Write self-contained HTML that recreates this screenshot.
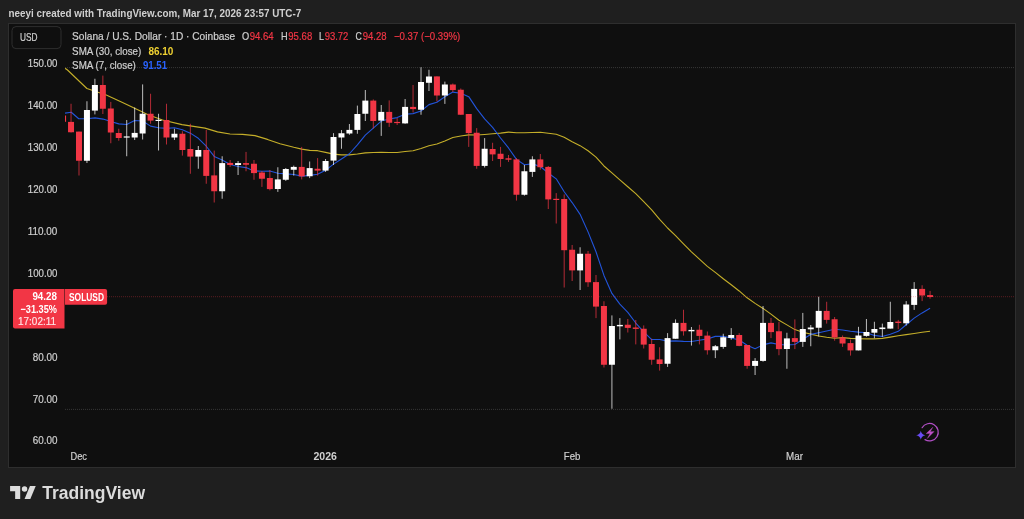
<!DOCTYPE html>
<html lang="en"><head><meta charset="utf-8"><title>SOLUSD chart</title>
<style>html,body{margin:0;padding:0;background:#1f1f1f;}body{width:1024px;height:519px;position:relative;overflow:hidden;}</style>
</head><body>
<svg width="1024" height="519" viewBox="0 0 1024 519" style="position:absolute;left:0;top:0;will-change:transform;font-family:'Liberation Sans',sans-serif">
<rect x="0" y="0" width="1024" height="519" fill="#1f1f1f"/>
<rect x="8.5" y="23.5" width="1007" height="444" fill="#0f0f0f" stroke="#2e2e2e" stroke-width="1"/>
<defs><clipPath id="pane"><rect x="65" y="24" width="950" height="420"/></clipPath></defs>
<g clip-path="url(#pane)">
<line x1="65" y1="67.6" x2="1015" y2="67.6" stroke="#7a7a7a" stroke-width="1" stroke-dasharray="1 1" opacity="0.36"/>
<line x1="65" y1="409.4" x2="1015" y2="409.4" stroke="#7a7a7a" stroke-width="1" stroke-dasharray="1 1" opacity="0.36"/>
<polyline points="65.00,68.20 67.50,70.00 86.90,88.50 98.75,92.50 106.25,95.00 122.50,102.50 142.50,111.90 147.50,114.40 162.50,120.00 182.00,124.60 205.00,128.10 217.50,131.90 230.00,134.00 242.50,134.40 255.00,135.60 267.50,139.40 280.00,143.75 293.75,147.32 301.70,149.14 309.65,150.34 317.61,150.67 325.56,152.37 333.52,154.10 341.47,154.92 349.42,154.83 357.38,154.03 365.33,152.84 373.29,152.44 381.24,152.38 389.19,152.45 397.15,152.56 405.10,151.54 413.06,150.72 421.01,148.45 428.96,145.78 436.92,143.97 444.87,140.92 452.83,137.55 460.78,135.94 468.73,134.87 476.69,134.97 484.64,134.43 492.60,133.81 500.55,133.15 508.50,132.17 516.46,132.68 524.41,132.76 532.37,132.51 540.32,132.20 548.27,133.25 556.23,134.22 564.18,137.20 572.14,141.65 580.09,145.66 588.04,150.74 596.00,157.16 603.95,165.97 611.91,172.80 619.86,179.90 627.81,186.74 635.77,193.60 643.72,201.52 651.68,209.88 659.63,219.28 667.58,228.00 675.54,235.57 683.49,243.80 691.45,251.79 699.40,259.17 707.35,266.40 715.31,272.42 723.26,278.70 731.22,284.72 739.17,290.95 747.12,297.82 755.08,303.36 763.03,308.42 770.99,314.17 778.94,320.23 786.89,324.87 794.85,329.60 802.80,332.22 810.76,334.13 818.71,336.03 826.66,337.29 834.62,338.32 842.57,337.61 850.53,338.42 858.48,338.77 866.43,338.91 874.39,338.91 882.34,338.35 890.30,337.09 898.25,335.72 906.20,334.60 914.16,333.47 922.11,332.27 930.07,331.18" fill="none" stroke="#d8c02c" stroke-width="1.1" stroke-linejoin="round" opacity="0.9"/>
<polyline points="65.00,113.10 71.25,112.25 78.75,118.75 86.90,118.75 95.00,117.90 103.10,119.10 110.80,121.58 118.76,123.89 126.71,124.49 134.67,120.51 142.62,121.04 150.57,126.13 158.53,127.71 166.48,128.42 174.44,127.81 182.39,129.76 190.34,133.14 198.30,138.32 206.25,146.22 214.21,156.43 222.16,160.09 230.11,164.55 238.07,166.42 246.02,167.59 253.98,170.89 261.93,171.29 269.88,170.99 277.84,173.31 285.79,173.89 293.75,174.43 301.70,176.09 309.65,175.38 317.61,174.21 325.56,170.20 333.52,164.14 341.47,159.04 349.42,153.75 357.38,144.84 365.33,135.19 373.29,128.11 381.24,121.09 389.19,119.06 397.15,117.61 405.10,114.32 413.06,113.62 421.01,110.96 428.96,104.61 436.92,102.26 444.87,96.80 452.83,92.09 460.78,93.21 468.73,96.64 476.69,108.62 484.64,118.94 492.60,127.36 500.55,138.00 508.50,147.94 516.46,159.37 524.41,164.82 532.37,163.89 540.32,166.54 548.27,172.96 556.23,178.82 564.18,191.75 572.14,202.56 580.09,214.34 588.04,231.89 596.00,251.80 603.95,275.42 611.91,293.42 619.86,304.09 627.81,312.31 635.77,323.04 643.72,331.95 651.68,339.54 659.63,339.44 667.58,341.16 675.54,340.88 683.49,341.36 691.45,341.50 699.40,340.26 707.35,338.90 715.31,336.36 723.26,336.24 731.22,337.97 739.17,340.06 747.12,345.21 755.08,348.78 763.03,344.87 770.99,342.85 778.94,344.54 786.89,345.03 794.85,344.46 802.80,339.19 810.76,334.41 818.71,332.70 826.66,330.96 834.62,329.30 842.57,330.03 850.53,331.24 858.48,332.17 866.43,332.81 874.39,335.40 882.34,336.49 890.30,334.27 898.25,331.34 906.20,324.79 914.16,318.13 922.11,312.91 930.07,308.34" fill="none" stroke="#2459e6" stroke-width="1.1" stroke-linejoin="round" opacity="0.95"/>
<rect x="62.58" y="115.50" width="1" height="6.30" fill="#f23645" opacity="0.72"/>
<rect x="60.08" y="115.50" width="6" height="6.30" fill="#f23645"/>
<rect x="70.53" y="103.75" width="1" height="28.75" fill="#f23645" opacity="0.72"/>
<rect x="68.03" y="121.90" width="6" height="10.35" fill="#f23645"/>
<rect x="78.49" y="131.60" width="1" height="43.90" fill="#f23645" opacity="0.72"/>
<rect x="75.99" y="131.60" width="6" height="29.15" fill="#f23645"/>
<rect x="86.44" y="101.25" width="1" height="61.75" fill="#ffffff" opacity="0.72"/>
<rect x="83.94" y="110.00" width="6" height="50.75" fill="#ffffff"/>
<rect x="94.40" y="78.75" width="1" height="35.65" fill="#ffffff" opacity="0.72"/>
<rect x="91.90" y="85.00" width="6" height="25.60" fill="#ffffff"/>
<rect x="102.35" y="75.60" width="1" height="38.40" fill="#f23645" opacity="0.72"/>
<rect x="99.85" y="85.00" width="6" height="23.75" fill="#f23645"/>
<rect x="110.30" y="101.90" width="1" height="41.35" fill="#f23645" opacity="0.72"/>
<rect x="107.80" y="108.50" width="6" height="24.00" fill="#f23645"/>
<rect x="118.26" y="128.75" width="1" height="12.00" fill="#f23645" opacity="0.72"/>
<rect x="115.76" y="133.00" width="6" height="5.00" fill="#f23645"/>
<rect x="126.21" y="120.00" width="1" height="36.25" fill="#ffffff" opacity="0.72"/>
<rect x="123.71" y="136.40" width="6" height="1.20" fill="#ffffff"/>
<rect x="134.17" y="107.50" width="1" height="32.50" fill="#ffffff" opacity="0.72"/>
<rect x="131.67" y="132.90" width="6" height="4.60" fill="#ffffff"/>
<rect x="142.12" y="84.40" width="1" height="55.10" fill="#ffffff" opacity="0.72"/>
<rect x="139.62" y="113.75" width="6" height="19.75" fill="#ffffff"/>
<rect x="150.07" y="93.75" width="1" height="30.00" fill="#f23645" opacity="0.72"/>
<rect x="147.57" y="113.75" width="6" height="6.85" fill="#f23645"/>
<rect x="158.03" y="113.75" width="1" height="36.75" fill="#ffffff" opacity="0.72"/>
<rect x="155.53" y="119.80" width="6" height="1.20" fill="#ffffff"/>
<rect x="165.98" y="103.75" width="1" height="40.75" fill="#f23645" opacity="0.72"/>
<rect x="163.48" y="120.00" width="6" height="17.50" fill="#f23645"/>
<rect x="173.94" y="128.75" width="1" height="11.25" fill="#ffffff" opacity="0.72"/>
<rect x="171.44" y="133.75" width="6" height="3.75" fill="#ffffff"/>
<rect x="181.89" y="131.25" width="1" height="24.35" fill="#f23645" opacity="0.72"/>
<rect x="179.39" y="133.75" width="6" height="16.25" fill="#f23645"/>
<rect x="189.84" y="123.75" width="1" height="50.00" fill="#f23645" opacity="0.72"/>
<rect x="187.34" y="149.00" width="6" height="7.60" fill="#f23645"/>
<rect x="197.80" y="146.00" width="1" height="22.75" fill="#ffffff" opacity="0.72"/>
<rect x="195.30" y="150.00" width="6" height="6.60" fill="#ffffff"/>
<rect x="205.75" y="130.00" width="1" height="53.75" fill="#f23645" opacity="0.72"/>
<rect x="203.25" y="150.00" width="6" height="25.90" fill="#f23645"/>
<rect x="213.71" y="150.60" width="1" height="51.90" fill="#f23645" opacity="0.72"/>
<rect x="211.21" y="175.40" width="6" height="15.85" fill="#f23645"/>
<rect x="221.66" y="156.25" width="1" height="42.50" fill="#ffffff" opacity="0.72"/>
<rect x="219.16" y="163.10" width="6" height="28.15" fill="#ffffff"/>
<rect x="229.61" y="160.00" width="1" height="6.90" fill="#f23645" opacity="0.72"/>
<rect x="227.11" y="162.90" width="6" height="2.10" fill="#f23645"/>
<rect x="237.57" y="161.00" width="1" height="14.00" fill="#ffffff" opacity="0.72"/>
<rect x="235.07" y="163.10" width="6" height="1.90" fill="#ffffff"/>
<rect x="245.52" y="151.90" width="1" height="19.35" fill="#f23645" opacity="0.72"/>
<rect x="243.02" y="163.10" width="6" height="1.65" fill="#f23645"/>
<rect x="253.48" y="160.00" width="1" height="19.75" fill="#f23645" opacity="0.72"/>
<rect x="250.98" y="163.75" width="6" height="9.35" fill="#f23645"/>
<rect x="261.43" y="171.00" width="1" height="15.90" fill="#f23645" opacity="0.72"/>
<rect x="258.93" y="172.50" width="6" height="6.25" fill="#f23645"/>
<rect x="269.38" y="170.00" width="1" height="20.40" fill="#f23645" opacity="0.72"/>
<rect x="266.88" y="178.00" width="6" height="11.10" fill="#f23645"/>
<rect x="277.34" y="167.25" width="1" height="24.65" fill="#ffffff" opacity="0.72"/>
<rect x="274.84" y="179.40" width="6" height="9.60" fill="#ffffff"/>
<rect x="285.29" y="168.00" width="1" height="12.90" fill="#ffffff" opacity="0.72"/>
<rect x="282.79" y="169.00" width="6" height="10.75" fill="#ffffff"/>
<rect x="293.25" y="165.60" width="1" height="10.00" fill="#ffffff" opacity="0.72"/>
<rect x="290.75" y="166.90" width="6" height="2.85" fill="#ffffff"/>
<rect x="301.20" y="146.90" width="1" height="32.50" fill="#f23645" opacity="0.72"/>
<rect x="298.70" y="166.90" width="6" height="9.50" fill="#f23645"/>
<rect x="309.15" y="161.50" width="1" height="16.60" fill="#ffffff" opacity="0.72"/>
<rect x="306.65" y="168.10" width="6" height="8.15" fill="#ffffff"/>
<rect x="317.11" y="158.10" width="1" height="17.50" fill="#f23645" opacity="0.72"/>
<rect x="314.61" y="168.75" width="6" height="1.85" fill="#f23645"/>
<rect x="325.06" y="159.00" width="1" height="12.90" fill="#ffffff" opacity="0.72"/>
<rect x="322.56" y="161.00" width="6" height="9.60" fill="#ffffff"/>
<rect x="333.02" y="133.10" width="1" height="31.90" fill="#ffffff" opacity="0.72"/>
<rect x="330.52" y="137.00" width="6" height="23.60" fill="#ffffff"/>
<rect x="340.97" y="130.00" width="1" height="18.75" fill="#ffffff" opacity="0.72"/>
<rect x="338.47" y="133.25" width="6" height="4.25" fill="#ffffff"/>
<rect x="348.92" y="124.00" width="1" height="10.75" fill="#ffffff" opacity="0.72"/>
<rect x="346.42" y="129.90" width="6" height="3.60" fill="#ffffff"/>
<rect x="356.88" y="105.60" width="1" height="28.15" fill="#ffffff" opacity="0.72"/>
<rect x="354.38" y="114.00" width="6" height="15.90" fill="#ffffff"/>
<rect x="364.83" y="90.00" width="1" height="31.00" fill="#ffffff" opacity="0.72"/>
<rect x="362.33" y="100.60" width="6" height="13.15" fill="#ffffff"/>
<rect x="372.79" y="99.40" width="1" height="29.10" fill="#f23645" opacity="0.72"/>
<rect x="370.29" y="100.60" width="6" height="20.40" fill="#f23645"/>
<rect x="380.74" y="105.00" width="1" height="30.90" fill="#ffffff" opacity="0.72"/>
<rect x="378.24" y="111.90" width="6" height="8.70" fill="#ffffff"/>
<rect x="388.69" y="100.40" width="1" height="26.50" fill="#f23645" opacity="0.72"/>
<rect x="386.19" y="111.90" width="6" height="10.85" fill="#f23645"/>
<rect x="396.65" y="118.10" width="1" height="6.90" fill="#f23645" opacity="0.72"/>
<rect x="394.15" y="121.90" width="6" height="1.20" fill="#f23645"/>
<rect x="404.60" y="99.00" width="1" height="24.75" fill="#ffffff" opacity="0.72"/>
<rect x="402.10" y="106.90" width="6" height="16.50" fill="#ffffff"/>
<rect x="412.56" y="85.00" width="1" height="27.50" fill="#f23645" opacity="0.72"/>
<rect x="410.06" y="106.90" width="6" height="2.20" fill="#f23645"/>
<rect x="420.51" y="67.25" width="1" height="47.50" fill="#ffffff" opacity="0.72"/>
<rect x="418.01" y="82.00" width="6" height="27.75" fill="#ffffff"/>
<rect x="428.46" y="69.75" width="1" height="21.25" fill="#ffffff" opacity="0.72"/>
<rect x="425.96" y="76.50" width="6" height="6.30" fill="#ffffff"/>
<rect x="436.42" y="76.40" width="1" height="25.00" fill="#f23645" opacity="0.72"/>
<rect x="433.92" y="76.40" width="6" height="19.10" fill="#f23645"/>
<rect x="444.37" y="81.60" width="1" height="22.30" fill="#ffffff" opacity="0.72"/>
<rect x="441.87" y="84.50" width="6" height="11.00" fill="#ffffff"/>
<rect x="452.33" y="83.50" width="1" height="8.50" fill="#f23645" opacity="0.72"/>
<rect x="449.83" y="84.50" width="6" height="5.60" fill="#f23645"/>
<rect x="460.28" y="88.50" width="1" height="26.25" fill="#f23645" opacity="0.72"/>
<rect x="457.78" y="89.75" width="6" height="25.00" fill="#f23645"/>
<rect x="468.23" y="114.00" width="1" height="32.90" fill="#f23645" opacity="0.72"/>
<rect x="465.73" y="114.00" width="6" height="19.10" fill="#f23645"/>
<rect x="476.19" y="128.10" width="1" height="40.65" fill="#f23645" opacity="0.72"/>
<rect x="473.69" y="132.75" width="6" height="33.15" fill="#f23645"/>
<rect x="484.14" y="138.10" width="1" height="29.40" fill="#ffffff" opacity="0.72"/>
<rect x="481.64" y="148.75" width="6" height="17.15" fill="#ffffff"/>
<rect x="492.10" y="142.75" width="1" height="18.25" fill="#f23645" opacity="0.72"/>
<rect x="489.60" y="149.00" width="6" height="5.40" fill="#f23645"/>
<rect x="500.05" y="146.90" width="1" height="20.00" fill="#f23645" opacity="0.72"/>
<rect x="497.55" y="153.75" width="6" height="5.25" fill="#f23645"/>
<rect x="508.00" y="155.00" width="1" height="6.90" fill="#f23645" opacity="0.72"/>
<rect x="505.50" y="158.30" width="6" height="1.40" fill="#f23645"/>
<rect x="515.96" y="158.10" width="1" height="42.50" fill="#f23645" opacity="0.72"/>
<rect x="513.46" y="159.40" width="6" height="35.35" fill="#f23645"/>
<rect x="523.91" y="165.00" width="1" height="30.60" fill="#ffffff" opacity="0.72"/>
<rect x="521.41" y="171.25" width="6" height="23.50" fill="#ffffff"/>
<rect x="531.87" y="156.25" width="1" height="20.65" fill="#ffffff" opacity="0.72"/>
<rect x="529.37" y="159.40" width="6" height="12.50" fill="#ffffff"/>
<rect x="539.82" y="154.00" width="1" height="15.75" fill="#f23645" opacity="0.72"/>
<rect x="537.32" y="159.40" width="6" height="7.85" fill="#f23645"/>
<rect x="547.77" y="166.00" width="1" height="43.00" fill="#f23645" opacity="0.72"/>
<rect x="545.27" y="166.90" width="6" height="32.50" fill="#f23645"/>
<rect x="555.73" y="193.10" width="1" height="30.40" fill="#f23645" opacity="0.72"/>
<rect x="553.23" y="198.80" width="6" height="1.20" fill="#f23645"/>
<rect x="563.68" y="194.40" width="1" height="93.10" fill="#f23645" opacity="0.72"/>
<rect x="561.18" y="199.00" width="6" height="51.20" fill="#f23645"/>
<rect x="571.64" y="245.00" width="1" height="36.00" fill="#f23645" opacity="0.72"/>
<rect x="569.14" y="249.75" width="6" height="20.65" fill="#f23645"/>
<rect x="579.59" y="247.25" width="1" height="42.75" fill="#ffffff" opacity="0.72"/>
<rect x="577.09" y="253.75" width="6" height="16.65" fill="#ffffff"/>
<rect x="587.54" y="251.00" width="1" height="35.90" fill="#f23645" opacity="0.72"/>
<rect x="585.04" y="253.75" width="6" height="28.50" fill="#f23645"/>
<rect x="595.50" y="275.00" width="1" height="43.10" fill="#f23645" opacity="0.72"/>
<rect x="593.00" y="282.10" width="6" height="24.50" fill="#f23645"/>
<rect x="603.45" y="301.25" width="1" height="66.25" fill="#f23645" opacity="0.72"/>
<rect x="600.95" y="306.00" width="6" height="58.75" fill="#f23645"/>
<rect x="611.41" y="315.40" width="1" height="93.35" fill="#ffffff" opacity="0.72"/>
<rect x="608.91" y="326.00" width="6" height="38.75" fill="#ffffff"/>
<rect x="619.36" y="318.10" width="1" height="21.30" fill="#ffffff" opacity="0.72"/>
<rect x="616.86" y="324.90" width="6" height="1.40" fill="#ffffff"/>
<rect x="627.31" y="319.00" width="1" height="13.50" fill="#f23645" opacity="0.72"/>
<rect x="624.81" y="324.75" width="6" height="3.15" fill="#f23645"/>
<rect x="635.27" y="320.00" width="1" height="24.40" fill="#f23645" opacity="0.72"/>
<rect x="632.77" y="327.50" width="6" height="1.40" fill="#f23645"/>
<rect x="643.22" y="325.40" width="1" height="23.10" fill="#f23645" opacity="0.72"/>
<rect x="640.72" y="328.75" width="6" height="15.85" fill="#f23645"/>
<rect x="651.18" y="338.75" width="1" height="26.00" fill="#f23645" opacity="0.72"/>
<rect x="648.68" y="344.00" width="6" height="15.75" fill="#f23645"/>
<rect x="659.13" y="347.25" width="1" height="23.35" fill="#f23645" opacity="0.72"/>
<rect x="656.63" y="359.40" width="6" height="4.60" fill="#f23645"/>
<rect x="667.08" y="333.10" width="1" height="33.80" fill="#ffffff" opacity="0.72"/>
<rect x="664.58" y="338.10" width="6" height="25.65" fill="#ffffff"/>
<rect x="675.04" y="319.40" width="1" height="19.35" fill="#ffffff" opacity="0.72"/>
<rect x="672.54" y="322.90" width="6" height="15.85" fill="#ffffff"/>
<rect x="682.99" y="309.75" width="1" height="25.85" fill="#f23645" opacity="0.72"/>
<rect x="680.49" y="322.90" width="6" height="8.35" fill="#f23645"/>
<rect x="690.95" y="327.00" width="1" height="18.60" fill="#ffffff" opacity="0.72"/>
<rect x="688.45" y="329.90" width="6" height="1.40" fill="#ffffff"/>
<rect x="698.90" y="324.75" width="1" height="19.65" fill="#f23645" opacity="0.72"/>
<rect x="696.40" y="329.75" width="6" height="6.15" fill="#f23645"/>
<rect x="706.85" y="331.50" width="1" height="23.10" fill="#f23645" opacity="0.72"/>
<rect x="704.35" y="335.60" width="6" height="14.65" fill="#f23645"/>
<rect x="714.81" y="345.00" width="1" height="13.10" fill="#ffffff" opacity="0.72"/>
<rect x="712.31" y="346.25" width="6" height="4.00" fill="#ffffff"/>
<rect x="722.76" y="333.75" width="1" height="15.00" fill="#ffffff" opacity="0.72"/>
<rect x="720.26" y="337.25" width="6" height="9.65" fill="#ffffff"/>
<rect x="730.72" y="328.10" width="1" height="11.65" fill="#ffffff" opacity="0.72"/>
<rect x="728.22" y="335.00" width="6" height="2.90" fill="#ffffff"/>
<rect x="738.67" y="333.10" width="1" height="13.15" fill="#f23645" opacity="0.72"/>
<rect x="736.17" y="335.00" width="6" height="10.90" fill="#f23645"/>
<rect x="746.62" y="345.00" width="1" height="23.75" fill="#f23645" opacity="0.72"/>
<rect x="744.12" y="345.00" width="6" height="20.90" fill="#f23645"/>
<rect x="754.58" y="358.10" width="1" height="16.90" fill="#ffffff" opacity="0.72"/>
<rect x="752.08" y="360.90" width="6" height="5.00" fill="#ffffff"/>
<rect x="762.53" y="306.00" width="1" height="55.70" fill="#ffffff" opacity="0.72"/>
<rect x="760.03" y="322.90" width="6" height="38.00" fill="#ffffff"/>
<rect x="770.49" y="317.90" width="1" height="20.20" fill="#f23645" opacity="0.72"/>
<rect x="767.99" y="322.90" width="6" height="9.20" fill="#f23645"/>
<rect x="778.44" y="321.90" width="1" height="33.35" fill="#f23645" opacity="0.72"/>
<rect x="775.94" y="331.25" width="6" height="17.85" fill="#f23645"/>
<rect x="786.39" y="332.75" width="1" height="36.00" fill="#ffffff" opacity="0.72"/>
<rect x="783.89" y="338.40" width="6" height="10.60" fill="#ffffff"/>
<rect x="794.35" y="319.40" width="1" height="29.70" fill="#f23645" opacity="0.72"/>
<rect x="791.85" y="338.10" width="6" height="3.80" fill="#f23645"/>
<rect x="802.30" y="312.90" width="1" height="34.00" fill="#ffffff" opacity="0.72"/>
<rect x="799.80" y="329.00" width="6" height="12.90" fill="#ffffff"/>
<rect x="810.26" y="325.00" width="1" height="21.25" fill="#ffffff" opacity="0.72"/>
<rect x="807.76" y="327.50" width="6" height="1.80" fill="#ffffff"/>
<rect x="818.21" y="296.75" width="1" height="39.75" fill="#ffffff" opacity="0.72"/>
<rect x="815.71" y="310.90" width="6" height="16.85" fill="#ffffff"/>
<rect x="826.16" y="301.75" width="1" height="21.85" fill="#f23645" opacity="0.72"/>
<rect x="823.66" y="310.90" width="6" height="9.00" fill="#f23645"/>
<rect x="834.12" y="317.00" width="1" height="23.70" fill="#f23645" opacity="0.72"/>
<rect x="831.62" y="319.25" width="6" height="18.25" fill="#f23645"/>
<rect x="842.07" y="335.50" width="1" height="11.40" fill="#f23645" opacity="0.72"/>
<rect x="839.57" y="337.50" width="6" height="6.00" fill="#f23645"/>
<rect x="850.03" y="339.50" width="1" height="16.10" fill="#f23645" opacity="0.72"/>
<rect x="847.53" y="343.10" width="6" height="7.30" fill="#f23645"/>
<rect x="857.98" y="326.80" width="1" height="23.60" fill="#ffffff" opacity="0.72"/>
<rect x="855.48" y="335.50" width="6" height="14.90" fill="#ffffff"/>
<rect x="865.93" y="319.00" width="1" height="17.75" fill="#ffffff" opacity="0.72"/>
<rect x="863.43" y="332.00" width="6" height="3.90" fill="#ffffff"/>
<rect x="873.89" y="321.75" width="1" height="16.55" fill="#ffffff" opacity="0.72"/>
<rect x="871.39" y="329.00" width="6" height="3.70" fill="#ffffff"/>
<rect x="881.84" y="323.60" width="1" height="13.20" fill="#ffffff" opacity="0.72"/>
<rect x="879.34" y="327.50" width="6" height="1.60" fill="#ffffff"/>
<rect x="889.80" y="301.75" width="1" height="26.85" fill="#ffffff" opacity="0.72"/>
<rect x="887.30" y="322.00" width="6" height="6.60" fill="#ffffff"/>
<rect x="897.75" y="319.90" width="1" height="9.35" fill="#f23645" opacity="0.72"/>
<rect x="895.25" y="321.60" width="6" height="1.40" fill="#f23645"/>
<rect x="905.70" y="301.10" width="1" height="24.40" fill="#ffffff" opacity="0.72"/>
<rect x="903.20" y="304.50" width="6" height="18.75" fill="#ffffff"/>
<rect x="913.66" y="282.10" width="1" height="27.80" fill="#ffffff" opacity="0.72"/>
<rect x="911.16" y="288.90" width="6" height="16.00" fill="#ffffff"/>
<rect x="921.61" y="285.25" width="1" height="15.85" fill="#f23645" opacity="0.72"/>
<rect x="919.11" y="288.90" width="6" height="6.60" fill="#f23645"/>
<rect x="929.57" y="290.90" width="1" height="7.70" fill="#f23645" opacity="0.72"/>
<rect x="927.07" y="295.10" width="6" height="1.90" fill="#f23645"/>
<line x1="107" y1="296.7" x2="1015" y2="296.7" stroke="#f23645" stroke-width="1" stroke-dasharray="1 1" opacity="0.32"/>
</g>

<text x="8.60" y="16.5" font-size="10.3" fill="#d0d0d0" font-weight="bold" textLength="292.60" lengthAdjust="spacingAndGlyphs">neeyi created with TradingView.com, Mar 17, 2026 23:57 UTC-7</text>
<rect x="12" y="26.6" width="49" height="22" rx="4" fill="none" stroke="#2e2e2e"/>
<text x="20.00" y="40.7" font-size="10.5" fill="#d0d0d0" stroke="#d0d0d0" stroke-width="0.2" textLength="17.50" lengthAdjust="spacingAndGlyphs">USD</text>
<text x="72.10" y="39.8" font-size="10.6" fill="#d0d0d0" stroke="#d0d0d0" stroke-width="0.2" textLength="163.10" lengthAdjust="spacingAndGlyphs">Solana / U.S. Dollar · 1D · Coinbase</text>
<text x="241.90" y="39.8" font-size="10.6" fill="#d0d0d0" stroke="#d0d0d0" stroke-width="0.2" textLength="7.20" lengthAdjust="spacingAndGlyphs">O</text>
<text x="249.70" y="39.8" font-size="10.6" fill="#f23645" stroke="#f23645" stroke-width="0.2" textLength="24.00" lengthAdjust="spacingAndGlyphs">94.64</text>
<text x="280.90" y="39.8" font-size="10.6" fill="#d0d0d0" stroke="#d0d0d0" stroke-width="0.2" textLength="6.60" lengthAdjust="spacingAndGlyphs">H</text>
<text x="288.30" y="39.8" font-size="10.6" fill="#f23645" stroke="#f23645" stroke-width="0.2" textLength="23.90" lengthAdjust="spacingAndGlyphs">95.68</text>
<text x="319.00" y="39.8" font-size="10.6" fill="#d0d0d0" stroke="#d0d0d0" stroke-width="0.2" textLength="5.00" lengthAdjust="spacingAndGlyphs">L</text>
<text x="324.70" y="39.8" font-size="10.6" fill="#f23645" stroke="#f23645" stroke-width="0.2" textLength="23.70" lengthAdjust="spacingAndGlyphs">93.72</text>
<text x="355.60" y="39.8" font-size="10.6" fill="#d0d0d0" stroke="#d0d0d0" stroke-width="0.2" textLength="6.30" lengthAdjust="spacingAndGlyphs">C</text>
<text x="362.70" y="39.8" font-size="10.6" fill="#f23645" stroke="#f23645" stroke-width="0.2" textLength="23.90" lengthAdjust="spacingAndGlyphs">94.28</text>
<text x="393.90" y="39.8" font-size="10.6" fill="#f23645" stroke="#f23645" stroke-width="0.2" textLength="66.40" lengthAdjust="spacingAndGlyphs">−0.37 (−0.39%)</text>
<text x="72.10" y="54.9" font-size="10.6" fill="#d0d0d0" stroke="#d0d0d0" stroke-width="0.2" textLength="69.20" lengthAdjust="spacingAndGlyphs">SMA (30, close)</text>
<text x="148.40" y="54.9" font-size="10.6" fill="#f0d232" font-weight="bold" textLength="25.00" lengthAdjust="spacingAndGlyphs">86.10</text>
<text x="72.10" y="69.4" font-size="10.6" fill="#d0d0d0" stroke="#d0d0d0" stroke-width="0.2" textLength="63.80" lengthAdjust="spacingAndGlyphs">SMA (7, close)</text>
<text x="142.90" y="69.4" font-size="10.6" fill="#2962ff" font-weight="bold" textLength="24.20" lengthAdjust="spacingAndGlyphs">91.51</text>
<text x="27.80" y="66.90" font-size="10.9" fill="#d0d0d0" stroke="#d0d0d0" stroke-width="0.2" textLength="29.60" lengthAdjust="spacingAndGlyphs">150.00</text>
<text x="27.80" y="108.85" font-size="10.9" fill="#d0d0d0" stroke="#d0d0d0" stroke-width="0.2" textLength="29.60" lengthAdjust="spacingAndGlyphs">140.00</text>
<text x="27.80" y="150.80" font-size="10.9" fill="#d0d0d0" stroke="#d0d0d0" stroke-width="0.2" textLength="29.60" lengthAdjust="spacingAndGlyphs">130.00</text>
<text x="27.80" y="192.75" font-size="10.9" fill="#d0d0d0" stroke="#d0d0d0" stroke-width="0.2" textLength="29.60" lengthAdjust="spacingAndGlyphs">120.00</text>
<text x="27.80" y="234.70" font-size="10.9" fill="#d0d0d0" stroke="#d0d0d0" stroke-width="0.2" textLength="29.60" lengthAdjust="spacingAndGlyphs">110.00</text>
<text x="27.80" y="276.65" font-size="10.9" fill="#d0d0d0" stroke="#d0d0d0" stroke-width="0.2" textLength="29.60" lengthAdjust="spacingAndGlyphs">100.00</text>
<text x="32.70" y="360.55" font-size="10.9" fill="#d0d0d0" stroke="#d0d0d0" stroke-width="0.2" textLength="24.70" lengthAdjust="spacingAndGlyphs">80.00</text>
<text x="32.70" y="402.50" font-size="10.9" fill="#d0d0d0" stroke="#d0d0d0" stroke-width="0.2" textLength="24.70" lengthAdjust="spacingAndGlyphs">70.00</text>
<text x="32.70" y="444.45" font-size="10.9" fill="#d0d0d0" stroke="#d0d0d0" stroke-width="0.2" textLength="24.70" lengthAdjust="spacingAndGlyphs">60.00</text>
<path d="M15,289.1 H64.5 V328.4 H15 Q13,328.4 13,326.4 V291.1 Q13,289.1 15,289.1 Z" fill="#f23645"/>
<path d="M65,289.1 H105.1 Q107.1,289.1 107.1,291.1 V302.75 Q107.1,304.75 105.1,304.75 H65 Z" fill="#f23645"/>
<text x="32.40" y="300.4" font-size="10.9" fill="#ffffff" font-weight="bold" textLength="24.60" lengthAdjust="spacingAndGlyphs">94.28</text>
<text x="20.50" y="312.9" font-size="10.9" fill="#ffffff" font-weight="bold" textLength="36.50" lengthAdjust="spacingAndGlyphs">−31.35%</text>
<text x="18.00" y="324.8" font-size="10.9" fill="#ffe6e8" stroke="#ffe6e8" stroke-width="0.15" textLength="38.10" lengthAdjust="spacingAndGlyphs">17:02:11</text>
<text x="69.00" y="300.6" font-size="10.6" fill="#ffffff" font-weight="bold" textLength="35.00" lengthAdjust="spacingAndGlyphs">SOLUSD</text>
<text x="70.50" y="459.8" font-size="10.9" fill="#d0d0d0" stroke="#d0d0d0" stroke-width="0.2" textLength="16.50" lengthAdjust="spacingAndGlyphs">Dec</text>
<text x="313.50" y="459.8" font-size="10.9" fill="#d0d0d0" font-weight="bold" textLength="23.50" lengthAdjust="spacingAndGlyphs">2026</text>
<text x="563.85" y="459.8" font-size="10.9" fill="#d0d0d0" stroke="#d0d0d0" stroke-width="0.2" textLength="16.50" lengthAdjust="spacingAndGlyphs">Feb</text>
<text x="786.10" y="459.8" font-size="10.9" fill="#d0d0d0" stroke="#d0d0d0" stroke-width="0.2" textLength="16.90" lengthAdjust="spacingAndGlyphs">Mar</text>
<g fill="none" stroke="#b04fc4" stroke-width="1.25" stroke-linecap="round">
<path d="M922.1,427.7 A8.7,8.7 0 1 1 925.0,439.6"/>
</g>
<path d="M932.9,427.2 L926.2,433.6 L930.1,433.4 L927.3,438.5 L934.1,431.6 L930.2,431.8 Z" fill="#c050c8" stroke="#c050c8" stroke-width="0.35" stroke-linejoin="round"/>
<path d="M920.8,430.7 Q921.5,434.5 925.4,435.2 Q921.5,435.9 920.8,439.7 Q920.1,435.9 916.2,435.2 Q920.1,434.5 920.8,430.7 Z" fill="#6a4cf5"/>
<g transform="translate(10.1,483.2) scale(0.7222)" fill="#dcdcdc">
<path d="M14 22H7V11H0V4h14v18z"/><circle cx="20" cy="8" r="3.8"/><path d="M28 22h-8l7.5-18h8L28 22z"/>
</g>
<text x="42.2" y="499.2" font-size="18.3" font-weight="bold" fill="#dcdcdc" textLength="102.9" lengthAdjust="spacingAndGlyphs">TradingView</text>
</svg>
</body></html>
